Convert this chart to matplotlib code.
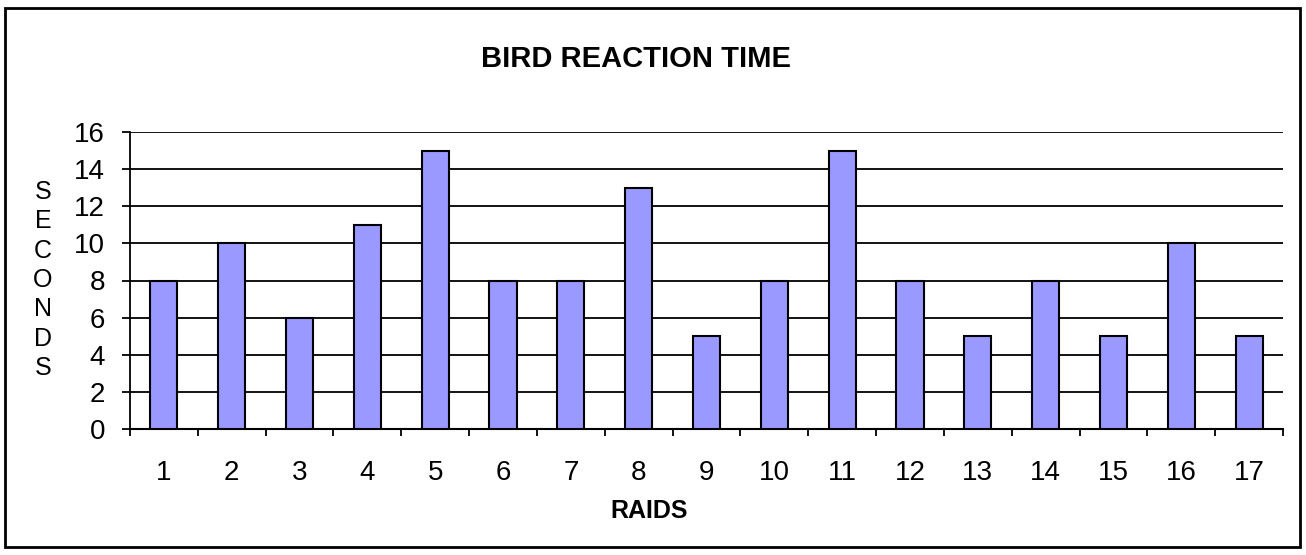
import matplotlib
matplotlib.use("Agg")
import matplotlib.pyplot as plt
from matplotlib.patches import Rectangle

# === 数据 ===
raids = [str(i) for i in range(1, 18)]
seconds = [8, 10, 6, 11, 15, 8, 8, 13, 5, 8, 15, 8, 5, 8, 5, 10, 5]
y_ticks = [0, 2, 4, 6, 8, 10, 12, 14, 16]

plt.rcParams["font.family"] = ["Liberation Sans", "DejaVu Sans"]

fig = plt.figure(figsize=(13.06, 5.55), dpi=100)
ax = fig.add_axes([130 / 1306, 1 - 429 / 555, (1283 - 130) / 1306, (429 - 132) / 555])

# 外框
fig.patches.append(Rectangle((5 / 1306, 8 / 555), (1300 - 5) / 1306, (547 - 8) / 555,
                             transform=fig.transFigure, fill=False,
                             edgecolor="black", linewidth=2))

x = list(range(len(raids)))
ax.bar(x, seconds, width=0.4, color="#9999FF", edgecolor="black", linewidth=1.5, zorder=3)

ax.set_xlim(-0.5, len(raids) - 0.5)
ax.set_ylim(0, 16)
ax.set_yticks(y_ticks)
ax.set_yticklabels([str(v) for v in y_ticks], fontsize=20)
ax.yaxis.grid(True, color="black", linewidth=1.3, zorder=0)

# x 轴主刻度在类别之间，标签在中间
ax.set_xticks([i - 0.5 for i in range(len(raids) + 1)])
ax.set_xticklabels([])
ax.set_xticks(x, minor=True)
ax.set_xticklabels(raids, minor=True, fontsize=20)
ax.tick_params(axis="x", which="minor", length=0, pad=22)
ax.tick_params(axis="x", which="major", length=5, width=1.3, direction="out")
ax.tick_params(axis="y", length=6, width=1.3, direction="out", pad=12)

for s in ["top", "right"]:
    ax.spines[s].set_visible(False)
ax.spines["left"].set_linewidth(1.3)
ax.spines["bottom"].set_linewidth(1.5)

fig.text(636 / 1306, 1 - 59 / 555, "BIRD REACTION TIME", ha="center", va="center",
         fontsize=21, fontweight="bold")
fig.text(649 / 1306, 1 - 511 / 555, "RAIDS", ha="center", va="center",
         fontsize=18, fontweight="bold")
fig.text(43 / 1306, 1 - 280 / 555, "\n".join("SECONDS"), ha="center", va="center",
         fontsize=18, linespacing=1.28)

fig.savefig("out.png", dpi=100)
